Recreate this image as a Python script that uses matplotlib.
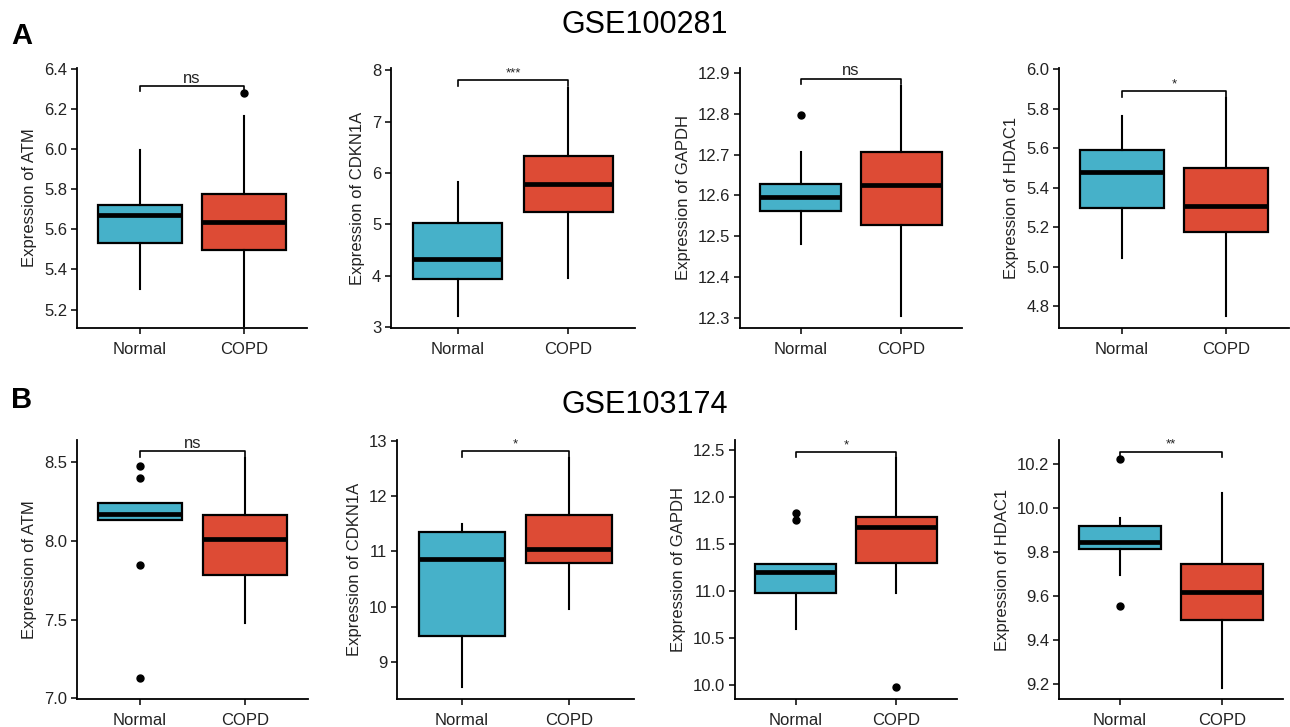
"""
Box plots of gene expression, Normal vs COPD, for two GEO datasets.
"""

import numpy as np
import matplotlib
matplotlib.use("Agg")
import matplotlib.pyplot as plt

plt.rcParams['font.family'] = ['Liberation Sans', 'DejaVu Sans']

genes = ['ATM', 'CDKN1A', 'GAPDH', 'HDAC1']
groups = ['Normal', 'COPD']
datasets = ['GSE100281', 'GSE103174']
panel_letters = ['A', 'B']

# box values: [lower whisker, Q1, median, Q3, upper whisker]
# GSE100281
atm_a_normal = [5.303, 5.532, 5.674, 5.720, 5.998]
atm_a_copd = [5.117, 5.499, 5.635, 5.777, 6.164]
cdkn1a_a_normal = [3.21, 3.935, 4.325, 5.02, 5.825]
cdkn1a_a_copd = [3.955, 5.234, 5.79, 6.325, 7.656]
gapdh_a_normal = [12.481, 12.563, 12.596, 12.629, 12.707]
gapdh_a_copd = [12.304, 12.528, 12.625, 12.707, 12.867]
hdac1_a_normal = [5.044, 5.295, 5.477, 5.589, 5.764]
hdac1_a_copd = [4.749, 5.174, 5.309, 5.498, 5.853]

# GSE103174
atm_b_normal = [8.135, 8.135, 8.171, 8.238, 8.238]
atm_b_copd = [7.477, 7.783, 8.015, 8.162, 8.525]
cdkn1a_b_normal = [8.549, 9.469, 10.865, 11.358, 11.502]
cdkn1a_b_copd = [9.95, 10.786, 11.051, 11.659, 12.687]
gapdh_b_normal = [10.590, 10.979, 11.202, 11.287, 11.287]
gapdh_b_copd = [10.979, 11.298, 11.680, 11.782, 12.412]
hdac1_b_normal = [9.696, 9.813, 9.846, 9.919, 9.954]
hdac1_b_copd = [9.180, 9.490, 9.620, 9.745, 10.071]

# outliers
atm_a_fliers = [[], [6.28]]
cdkn1a_a_fliers = [[], []]
gapdh_a_fliers = [[12.797], []]
hdac1_a_fliers = [[], []]
atm_b_fliers = [[8.477, 8.399, 7.848, 7.129], []]
cdkn1a_b_fliers = [[], []]
gapdh_b_fliers = [[11.828, 11.750], [9.972]]
hdac1_b_fliers = [[10.226, 9.552], []]

# significance labels and bracket heights
sig_a = ['ns', '***', 'ns', '*']
sig_b = ['ns', '*', '*', '**']
bracket_a = [6.314, 7.805, 12.886, 5.887]
bracket_b = [8.568, 12.81, 12.482, 10.258]

# axis limits and ticks
ylim_a = [(5.108, 6.405), (2.98, 8.045), (12.2755, 12.912), (4.69, 6.005)]
ylim_b = [(6.995, 8.641), (8.326, 13.018), (9.848, 12.606), (9.130, 10.311)]
yticks_a = [[5.2, 5.4, 5.6, 5.8, 6.0, 6.2, 6.4], [3, 4, 5, 6, 7, 8],
            [12.3, 12.4, 12.5, 12.6, 12.7, 12.8, 12.9], [4.8, 5.0, 5.2, 5.4, 5.6, 5.8, 6.0]]
yticks_b = [[7.0, 7.5, 8.0, 8.5], [9, 10, 11, 12, 13],
            [10.0, 10.5, 11.0, 11.5, 12.0, 12.5], [9.2, 9.4, 9.6, 9.8, 10.0, 10.2]]
tickfmt_a = ['%.1f', '%d', '%.1f', '%.1f']
tickfmt_b = ['%.1f', '%d', '%.1f', '%.1f']

boxes_a = [(atm_a_normal, atm_a_copd), (cdkn1a_a_normal, cdkn1a_a_copd),
           (gapdh_a_normal, gapdh_a_copd), (hdac1_a_normal, hdac1_a_copd)]
boxes_b = [(atm_b_normal, atm_b_copd), (cdkn1a_b_normal, cdkn1a_b_copd),
           (gapdh_b_normal, gapdh_b_copd), (hdac1_b_normal, hdac1_b_copd)]
fliers_a = [atm_a_fliers, cdkn1a_a_fliers, gapdh_a_fliers, hdac1_a_fliers]
fliers_b = [atm_b_fliers, cdkn1a_b_fliers, gapdh_b_fliers, hdac1_b_fliers]

colors = ['#46B1C9', '#DD4B35']

W, H = 1290, 727
fig = plt.figure(figsize=(W / 100, H / 100), dpi=100)

# axes placement in pixels: (left, right), rows: (top, bottom)
cols_a = [(77, 307), (391, 635), (740, 962), (1059, 1289)]
cols_b = [(77, 308), (397, 634), (735, 957), (1059, 1283)]
rows = [(68, 328), (440, 699)]


def stats_from(vals, fl):
    return {'whislo': vals[0], 'q1': vals[1], 'med': vals[2],
            'q3': vals[3], 'whishi': vals[4], 'fliers': fl}


def draw_panel(rect, box_pair, fliers, sig, bracket, ylim, yticks, fmt, gene):
    ax = fig.add_axes(rect)
    stats = [stats_from(box_pair[i], fliers[i]) for i in range(2)]
    bp = ax.bxp(stats, positions=[1, 2], widths=0.8, patch_artist=True,
                showcaps=False,
                boxprops=dict(linewidth=1.6, edgecolor='black'),
                whiskerprops=dict(linewidth=1.5, color='black'),
                medianprops=dict(linewidth=3.4, color='black'),
                flierprops=dict(marker='o', markersize=5, markerfacecolor='black',
                                markeredgecolor='black'))
    for patch, c in zip(bp['boxes'], colors):
        patch.set_facecolor(c)
    ax.set_xlim(0.4, 2.6)
    ax.set_ylim(*ylim)
    ax.set_yticks(yticks)
    ax.set_yticklabels([fmt % t for t in yticks])
    ax.set_xticks([1, 2])
    ax.set_xticklabels(groups)
    for s in ['top', 'right']:
        ax.spines[s].set_visible(False)
    for s in ['left', 'bottom']:
        ax.spines[s].set_linewidth(1.3)
    ax.tick_params(axis='both', length=4, width=1.1, labelsize=12, pad=3,
                   colors='black', labelcolor='#222222')
    ax.tick_params(axis='x', pad=6)
    ax.set_ylabel('Expression of ' + gene, fontsize=12, color='#222222', labelpad=5)

    # significance bracket
    tip = 0.02 * (ylim[1] - ylim[0])
    ax.plot([1, 1, 2, 2], [bracket - tip, bracket, bracket, bracket - tip],
            color='black', linewidth=1.2, clip_on=False)
    size = 12 if sig == 'ns' else 9.5
    ax.annotate(sig, xy=(1.5, bracket), xytext=(0, 0.5), textcoords='offset points',
                ha='center', va='bottom', fontsize=size, color='#222222')
    return ax


for r, (cols, boxes, fl, sig, br, yl, yt, fm) in enumerate([
        (cols_a, boxes_a, fliers_a, sig_a, bracket_a, ylim_a, yticks_a, tickfmt_a),
        (cols_b, boxes_b, fliers_b, sig_b, bracket_b, ylim_b, yticks_b, tickfmt_b)]):
    top, bottom = rows[r]
    for i in range(4):
        left, right = cols[i]
        rect = [left / W, 1 - bottom / H, (right - left) / W, (bottom - top) / H]
        draw_panel(rect, boxes[i], fl[i], sig[i], br[i], yl[i], yt[i], fm[i], genes[i])

# dataset titles and panel letters
fig.text(645 / W, 1 - 25 / H, datasets[0], ha='center', va='center', fontsize=22)
fig.text(645 / W, 1 - 405 / H, datasets[1], ha='center', va='center', fontsize=22)
fig.text(11 / W, 1 - 36 / H, panel_letters[0], ha='left', va='center',
         fontsize=21, fontweight='bold')
fig.text(11 / W, 1 - 400 / H, panel_letters[1], ha='left', va='center',
         fontsize=21, fontweight='bold')

plt.savefig('out.png', dpi=100)
